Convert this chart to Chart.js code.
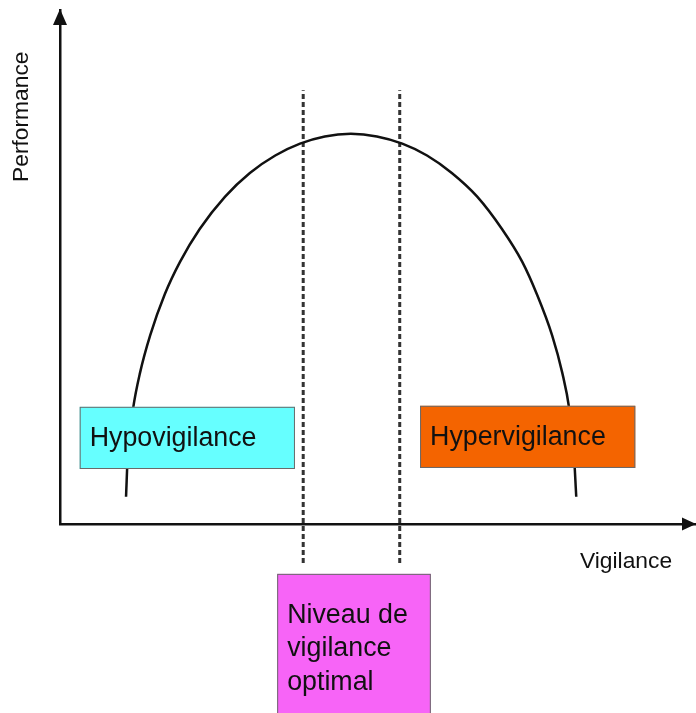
<!DOCTYPE html>
<html>
<head>
<meta charset="utf-8">
<script src="https://cdn.jsdelivr.net/npm/chart.js@4.4.1/dist/chart.umd.min.js"></script>
<style>
  body { margin: 0; background: #fff; }
  canvas { display: block; }
</style>
</head>
<body>
<canvas id="vigilanceChart" width="696" height="713"></canvas>
<script>
// Yerkes-Dodson style curve: performance vs vigilance
const vigilance = [10.4, 10.7, 11.5, 12.6, 14.2, 16.5, 18.9, 22.0, 26.0, 29.9, 33.9, 37.8, 41.7, 45.8,
                   49.9, 53.9, 57.8, 61.7, 65.7, 69.6, 72.8, 75.1, 77.5, 79.1, 80.2, 80.9, 81.3];
const performance = [5.3, 14.2, 22.4, 29.4, 36.7, 44.7, 51.0, 57.4, 63.7, 68.3, 71.7, 74.0, 75.4, 75.9,
                     75.4, 74.0, 71.7, 68.3, 63.7, 57.4, 51.0, 44.7, 36.7, 29.4, 22.4, 14.2, 5.3];

// optimal zone bounds (vigilance) and the span of the dashed lines (performance)
const optimalBounds = [38.3, 53.5];
const dashSpan = [-7.6, 84.4];

const axisTitles = ['Vigilance', 'Performance'];
const zoneNames = ['Hypovigilance', 'Hypervigilance', 'Niveau de vigilance optimal'];

// zone boxes in data units: [xMin, xMax], [yTop, yBottom]
const zoneBoxes = [
    { x: [3.1, 37.0], y: [22.8, 10.7], fill: '#66ffff', lines: [zoneNames[0]] },
    { x: [56.7, 90.6], y: [23.0, 10.9], fill: '#f46400', lines: [zoneNames[1]] },
    { x: [34.2, 58.4], y: [-9.7, -40], fill: '#f764f7', lines: ['Niveau de', 'vigilance', 'optimal'] }
];

const FONT = '"Liberation Sans", Arial, sans-serif';

const decor = {
    id: 'decor',
    afterDatasetsDraw(chart) {
        const { ctx, scales: { x, y } } = chart;
        ctx.save();
        zoneBoxes.forEach(b => {
            const l = x.getPixelForValue(b.x[0]);
            const r = x.getPixelForValue(b.x[1]);
            const t = y.getPixelForValue(b.y[0]);
            const btm = y.getPixelForValue(b.y[1]);
            ctx.fillStyle = b.fill;
            ctx.fillRect(l, t, r - l, btm - t);
            ctx.strokeStyle = '#6a6a6a';
            ctx.lineWidth = 1;
            ctx.strokeRect(l + 0.5, t + 0.5, r - l - 1, btm - t - 1);
            ctx.fillStyle = '#111';
            ctx.font = '26.8px ' + FONT;
            ctx.textBaseline = 'alphabetic';
            if (b.lines.length === 1) {
                ctx.fillText(b.lines[0], l + 10, t + 39);
            } else {
                b.lines.forEach((s, i) => ctx.fillText(s, l + 10, t + 49 + i * 33.5));
            }
        });
        ctx.restore();
    },
    afterDraw(chart) {
        const { ctx, chartArea: a } = chart;
        ctx.save();
        ctx.fillStyle = '#111';
        // arrowheads
        ctx.beginPath();
        ctx.moveTo(a.left, a.top - 1);
        ctx.lineTo(a.left - 7, a.top + 15);
        ctx.lineTo(a.left + 7, a.top + 15);
        ctx.closePath();
        ctx.fill();
        ctx.beginPath();
        ctx.moveTo(a.right + 1, a.bottom);
        ctx.lineTo(a.right - 13, a.bottom - 6.5);
        ctx.lineTo(a.right - 13, a.bottom + 6.5);
        ctx.closePath();
        ctx.fill();
        // axis titles
        ctx.font = '22.8px ' + FONT;
        ctx.fillStyle = '#111';
        ctx.textAlign = 'left';
        ctx.textBaseline = 'alphabetic';
        ctx.fillText(axisTitles[0], a.left + 520, a.bottom + 44);
        ctx.translate(a.left - 32, a.top + 172);
        ctx.rotate(-Math.PI / 2);
        ctx.fillText(axisTitles[1], 0, 0);
        ctx.restore();
    }
};

const ctx = document.getElementById('vigilanceChart').getContext('2d');
const vigilanceChart = new Chart(ctx, {
    type: 'line',
    data: {
        datasets: [{
            label: 'Performance',
            data: vigilance.map((v, i) => ({ x: v, y: performance[i] })),
            borderColor: '#111',
            borderWidth: 2.5,
            pointRadius: 0,
            cubicInterpolationMode: 'monotone',
            fill: false
        }, {
            label: 'Borne basse',
            data: dashSpan.map(p => ({ x: optimalBounds[0], y: p })),
            borderColor: '#333',
            borderWidth: 3,
            borderDash: [5, 3],
            pointRadius: 0,
            clip: false
        }, {
            label: 'Borne haute',
            data: dashSpan.map(p => ({ x: optimalBounds[1], y: p })),
            borderColor: '#333',
            borderWidth: 3,
            borderDash: [5, 3],
            pointRadius: 0,
            clip: false
        }]
    },
    options: {
        responsive: false,
        animation: false,
        layout: { padding: { left: 60, top: 10, right: 1, bottom: 189 } },
        plugins: { legend: { display: false }, tooltip: { enabled: false } },
        scales: {
            x: {
                type: 'linear', min: 0, max: 100,
                grid: { display: false, drawTicks: false },
                ticks: { display: false },
                border: { display: true, color: '#111', width: 2.5 }
            },
            y: {
                type: 'linear', min: 0, max: 100,
                grid: { display: false, drawTicks: false },
                ticks: { display: false },
                border: { display: true, color: '#111', width: 2.5 }
            }
        }
    },
    plugins: [decor]
});
</script>
</body>
</html>
